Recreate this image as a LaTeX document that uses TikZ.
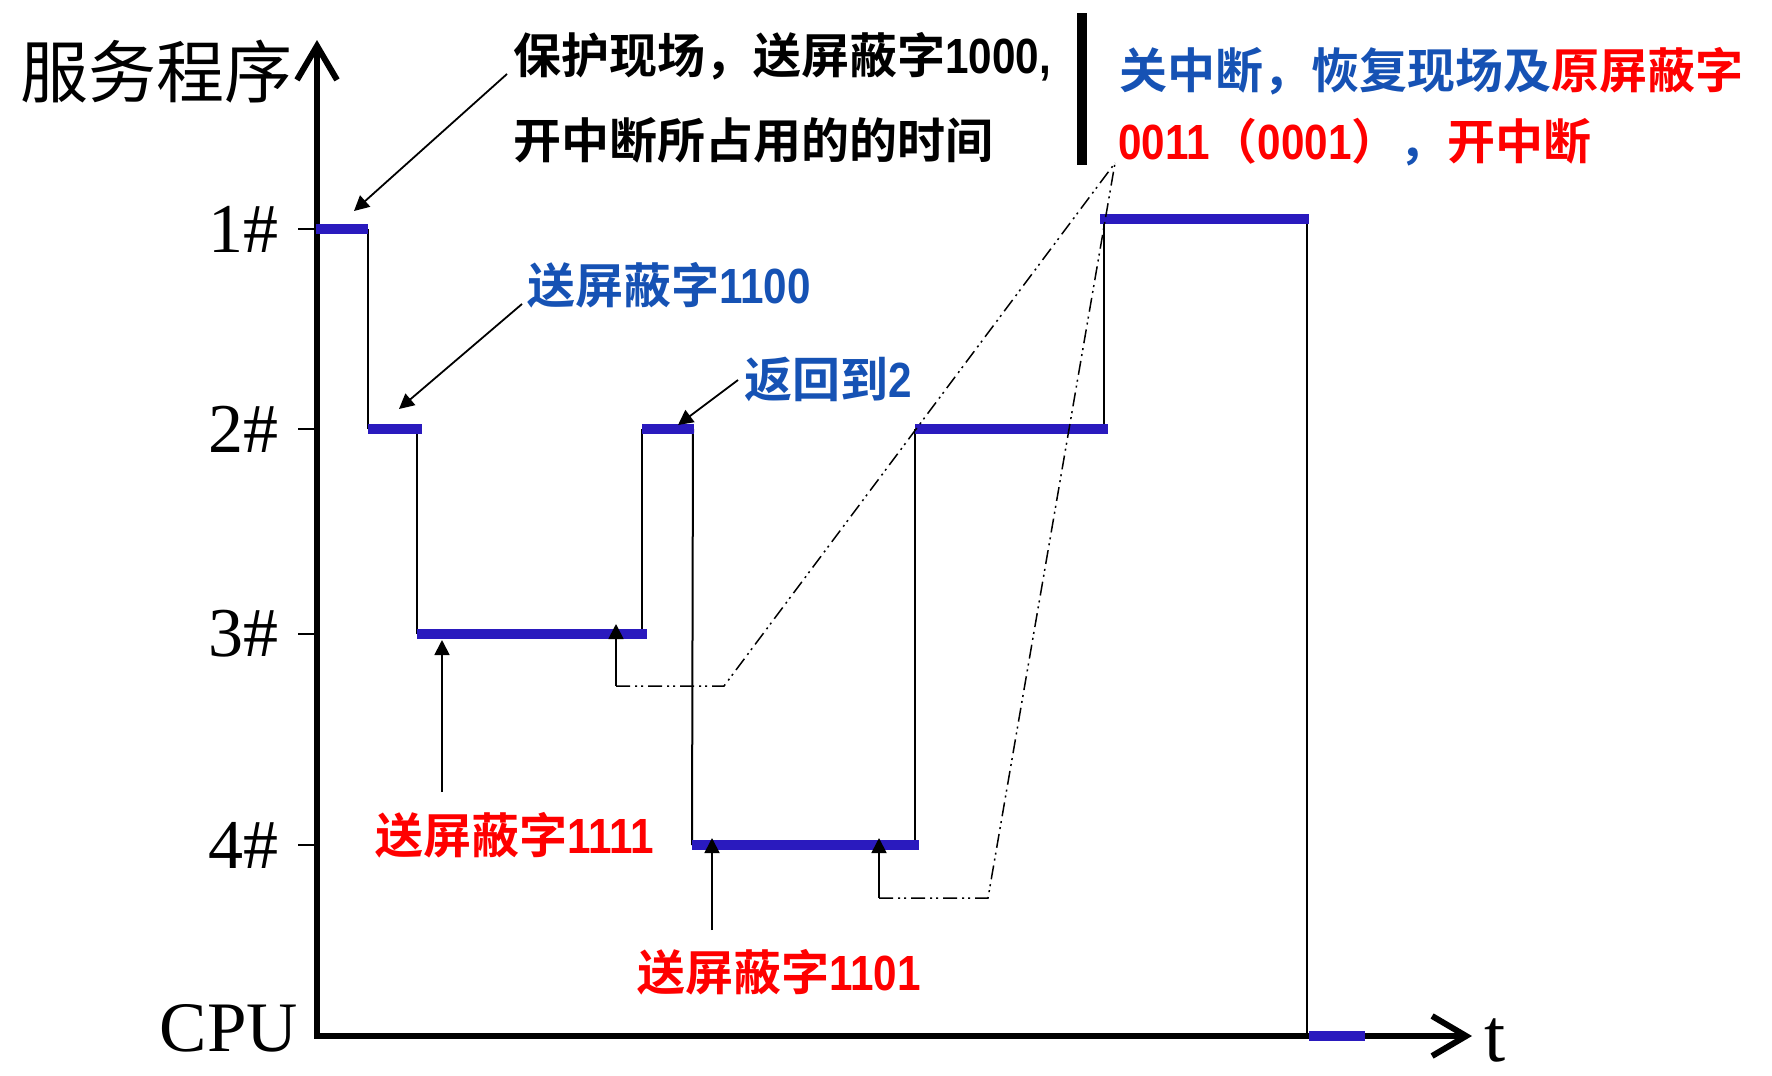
\documentclass[tikz,border=0pt]{standalone}
\usepackage{fontspec}
\setmainfont{Liberation Serif}
\newfontfamily\cjk{Noto Sans CJK SC}[BoldFont=* Bold]
\newfontfamily\dgtfont{Liberation Sans}
\newcommand\nm[1]{\scalebox{0.88}[1.03]{\dgtfont\bfseries #1}}
\usetikzlibrary{arrows.meta}
\definecolor{segblue}{RGB}{42,26,190}
\definecolor{txtblue}{RGB}{22,82,180}
\definecolor{txtred}{RGB}{255,0,0}
\begin{document}
\begin{tikzpicture}[x=1pt,y=-1pt,
  axisline/.style={line width=6pt,{Straight Barb[length=34pt,width=40pt]}-{Straight Barb[length=34pt,width=40pt]}},
  levelseg/.style={line width=10pt,draw=segblue},
  thinl/.style={line width=2pt},
  ptr/.style={line width=1.8pt,-{Triangle[length=15pt,width=15pt]}},
  ddash/.style={line width=1.5pt,dash pattern=on 14pt off 5pt on 2pt off 4pt on 2pt off 5pt},
  lbl/.style={inner sep=0pt,font=\cjk\bfseries\fontsize{48}{56}\selectfont},
  lvl/.style={inner sep=0pt,font=\fontsize{70}{74}\selectfont},
]
\useasboundingbox (0,0) rectangle (1772,1076);
% axes
\coordinate (ytop) at (317,40);
\coordinate (O) at (317,1036);
\coordinate (xend) at (1472,1036);
\draw[axisline] (ytop) -- (O) -- (xend);
% axis labels
\node[inner sep=0pt,anchor=west,font=\cjk\fontsize{68}{72}\selectfont] (ylab) at (20,72) {服务程序};
\node[lvl,anchor=east,font=\fontsize{71}{74}\selectfont] (cpu) at (298,1028) {CPU};
\node[lvl,anchor=west,font=\fontsize{76}{80}\selectfont] (tlab) at (1484,1040) {t};
% ticks and level labels
\foreach \n/\yy in {1/229,2/429,3/634,4/845}{
  \coordinate (tk\n) at (298,\yy);
  \coordinate (ax\n) at (317,\yy);
  \draw[thinl] (tk\n) -- (ax\n);
  \node[lvl,anchor=east] (lv\n) at (279,\yy) {\n\#};
}
% step points
\coordinate (a1) at (316,229);  \coordinate (a2) at (368,229);
\coordinate (b1) at (368,429);  \coordinate (b2) at (422,429);
\coordinate (c1) at (417,634);  \coordinate (c2) at (647,634);
\coordinate (d1) at (642,429);  \coordinate (d2) at (694,429);
\coordinate (e1) at (692,845);  \coordinate (e2) at (919,845);
\coordinate (f1) at (915,429);  \coordinate (f2) at (1108,429);
\coordinate (g1) at (1100,219); \coordinate (g2) at (1309,219);
\coordinate (h1) at (1309,1036);\coordinate (h2) at (1365,1036);
% thin verticals
\draw[thinl] (a2) -- (b1);
\draw[thinl] (417,429) -- (c1);
\draw[thinl] (642,634) -- (d1);
\draw[thinl] (693,429) -- (e1);
\draw[thinl] (915,845) -- (f1);
\draw[thinl] (1104,429) -- (1104,219);
\draw[thinl] (1307,219) -- (1307,1036);
% level segments
\draw[levelseg] (a1) -- (a2);
\draw[levelseg] (b1) -- (b2);
\draw[levelseg] (c1) -- (c2);
\draw[levelseg] (d1) -- (d2);
\draw[levelseg] (e1) -- (e2);
\draw[levelseg] (f1) -- (f2);
\draw[levelseg] (g1) -- (g2);
\draw[levelseg] (h1) -- (h2);
% black bar
\coordinate (bar1) at (1082,13);
\coordinate (bar2) at (1082,165);
\draw[line width=10pt] (bar1) -- (bar2);
% texts
\node[lbl,anchor=west] (t1) at (513,57) {保护现场，送屏蔽字\nm{1000,}};
\node[lbl,anchor=west] (t2) at (513,140) {开中断所占用的的时间};
\node[lbl,anchor=west,text=txtblue] (t3) at (527,285) {送屏蔽字\nm{1100}};
\node[lbl,anchor=west,text=txtblue] (t4) at (744,379) {返回到\nm{2}};
\node[lbl,anchor=west] (t5) at (1119,71) {\textcolor{txtblue}{关中断，恢复现场及}\textcolor{txtred}{原屏蔽字}};
\node[lbl,anchor=west] (t6) at (1118,142) {\textcolor{txtred}{\nm{0011}（\nm{0001}）}\textcolor{txtblue}{，}\textcolor{txtred}{开中断}};
\node[lbl,anchor=west,text=txtred] (t7) at (375,835) {送屏蔽字\nm{1111}};
\node[lbl,anchor=west,text=txtred] (t8) at (637,972) {送屏蔽字\nm{1101}};
% pointer arrows
\coordinate (p1s) at (507,74);  \coordinate (p1e) at (354,211);
\coordinate (p2s) at (522,304); \coordinate (p2e) at (399,409);
\coordinate (p3s) at (738,380); \coordinate (p3e) at (678,425);
\coordinate (p4s) at (442,792); \coordinate (p4e) at (442,640);
\coordinate (p5s) at (616,686); \coordinate (p5e) at (616,624);
\coordinate (p6s) at (712,930); \coordinate (p6e) at (712,838);
\coordinate (p7s) at (879,898); \coordinate (p7e) at (879,838);
\draw[ptr] (p1s) -- (p1e);
\draw[ptr] (p2s) -- (p2e);
\draw[ptr] (p3s) -- (p3e);
\draw[ptr] (p4s) -- (p4e);
\draw[ptr] (p5s) -- (p5e);
\draw[ptr] (p6s) -- (p6e);
\draw[ptr] (p7s) -- (p7e);
% dash-dot leaders
\coordinate (q1) at (724,686);
\coordinate (q2) at (988,898);
\coordinate (apex) at (1115,163);
\draw[ddash] (p5s) -- (q1) -- (apex);
\draw[ddash] (p7s) -- (q2) -- (apex);
\end{tikzpicture}
\end{document}
